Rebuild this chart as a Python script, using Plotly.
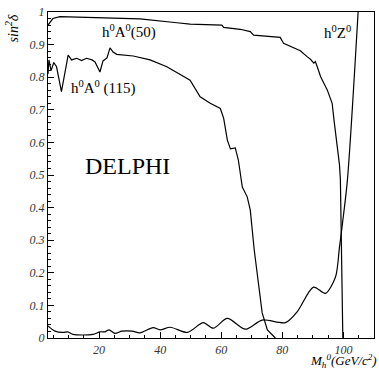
import plotly.graph_objects as go

# h0A0(50) curve
a50_x = [3.3, 4.9, 7.2, 19.2, 33.4, 45.5, 49.8, 60.2, 60.8, 66.2, 69.5, 70.6, 79.3, 80.4,
         85.9, 88.1, 89.2, 90.3, 90.8, 91.4, 92.5, 94.7, 96.3, 96.9, 98.0, 98.7, 99.0, 99.8]
a50_y = [0.960, 0.980, 0.986, 0.983, 0.979, 0.967, 0.963, 0.960, 0.953, 0.947, 0.940, 0.929, 0.922, 0.904,
         0.881, 0.863, 0.855, 0.843, 0.848, 0.833, 0.802, 0.761, 0.720, 0.669, 0.577, 0.531, 0.485, 0.0]

# h0A0(115) curve
a115_x = [3.3, 3.6, 4.3, 5.2, 6.1, 7.7, 9.9, 11.0, 12.7, 14.3, 15.9, 17.7, 18.7, 20.3, 21.3, 22.6,
          23.6, 24.6, 25.8, 31.2, 36.7, 42.2, 49.8, 53.1, 56.4, 59.7, 60.8, 62.0, 63.0, 64.6, 65.6,
          66.9, 68.5, 69.5, 70.8, 72.1, 73.4, 75.1, 77.7]
a115_y = [0.810, 0.853, 0.820, 0.845, 0.832, 0.756, 0.868, 0.853, 0.858, 0.851, 0.858, 0.853, 0.847, 0.816, 0.850, 0.859,
          0.890, 0.877, 0.870, 0.865, 0.853, 0.832, 0.791, 0.740, 0.720, 0.704, 0.674, 0.607, 0.580, 0.583, 0.546,
          0.463, 0.433, 0.393, 0.270, 0.169, 0.077, 0.025, 0.0]

# h0Z0 curve
z_x = [3.3, 5.6, 8.2, 9.8, 11.5, 18.0, 20.3, 22.0, 23.3, 25.2, 27.5, 30.8, 33.4, 37.7, 40.0, 43.3,
       48.9, 54.1, 57.4, 62.0, 67.9, 73.4, 81.0, 84.9, 90.2, 94.1, 97.4, 98.7, 99.7, 101.3, 104.8]
z_y = [0.037, 0.021, 0.017, 0.019, 0.011, 0.011, 0.019, 0.019, 0.025, 0.014, 0.021, 0.021, 0.016, 0.032, 0.025, 0.033,
       0.017, 0.047, 0.030, 0.060, 0.027, 0.055, 0.047, 0.081, 0.156, 0.137, 0.187, 0.279, 0.353, 0.485, 1.0]

x_ticks = [20, 40, 60, 80, 100]
y_ticks = [0, 0.1, 0.2, 0.3, 0.4, 0.5, 0.6, 0.7, 0.8, 0.9, 1]
y_ticklabels = ["0", "0.1", "0.2", "0.3", "0.4", "0.5", "0.6", "0.7", "0.8", "0.9", "1"]

fig = go.Figure()
line = dict(color="black", width=1.2)
fig.add_trace(go.Scatter(x=a50_x, y=a50_y, mode="lines", line=line))
fig.add_trace(go.Scatter(x=a115_x, y=a115_y, mode="lines", line=line))
fig.add_trace(go.Scatter(x=z_x, y=z_y, mode="lines", line=dict(color="black", width=1.2, shape="spline", smoothing=0.8)))

serif = "Liberation Serif, Times New Roman, serif"
tickfont = dict(family=serif, size=12, color="#333", style="italic")

fig.update_layout(
    width=379, height=368,
    margin=dict(l=48, r=5, t=12, b=30),
    paper_bgcolor="white", plot_bgcolor="white",
    showlegend=False,
    font=dict(family=serif, color="black"),
    xaxis=dict(range=[3.3, 110], tickmode="array", tickvals=x_ticks, ticktext=[str(v) for v in x_ticks],
               ticks="inside", ticklen=6, tickwidth=1, tickcolor="black",
               showline=True, linecolor="black", linewidth=1.2, mirror=True,
               showgrid=False, zeroline=False, tickfont=tickfont, automargin=False,
               minor=dict(tickmode="linear", tick0=0, dtick=5, ticks="inside", ticklen=3, tickcolor="black")),
    yaxis=dict(range=[0, 1], tickmode="array", tickvals=y_ticks, ticktext=y_ticklabels,
               ticks="inside", ticklen=6, tickwidth=1, tickcolor="black",
               showline=True, linecolor="black", linewidth=1.2, mirror=True,
               showgrid=False, zeroline=False, tickfont=tickfont, automargin=False,
               minor=dict(tickmode="linear", tick0=0, dtick=0.02, ticks="inside", ticklen=3, tickcolor="black")),
)

lab = dict(family=serif, size=15, color="black")
fig.add_annotation(x=29.8, y=0.939, xref="x", yref="y", text="h<sup>0</sup>A<sup>0</sup>(50)", showarrow=False, font=lab)
fig.add_annotation(x=21.5, y=0.767, xref="x", yref="y", text="h<sup>0</sup>A<sup>0</sup> (115)", showarrow=False, font=lab)
fig.add_annotation(x=98.0, y=0.939, xref="x", yref="y", text="h<sup>0</sup>Z<sup>0</sup>", showarrow=False, font=lab)
fig.add_annotation(x=29.2, y=0.528, xref="x", yref="y", text="DELPHI", showarrow=False,
                   font=dict(family=serif, size=24, color="black"))

fig.add_annotation(x=1.015, y=-0.07, xref="paper", yref="paper", xanchor="right", yanchor="middle",
                   text="M<sub>h</sub><sup>0</sup>(GeV/c<sup>2</sup>)", showarrow=False,
                   font=dict(family=serif, size=13, color="black", style="italic"))
fig.add_annotation(x=-0.11, y=0.95, xref="paper", yref="paper", xanchor="center", yanchor="middle",
                   text="sin<sup>2</sup>δ", textangle=-90, showarrow=False,
                   font=dict(family=serif, size=14, color="black", style="italic"))

fig.write_html("out.html", config={"displayModeBar": False},
               post_script="document.body.style.margin='0';document.body.style.overflow='hidden';")
